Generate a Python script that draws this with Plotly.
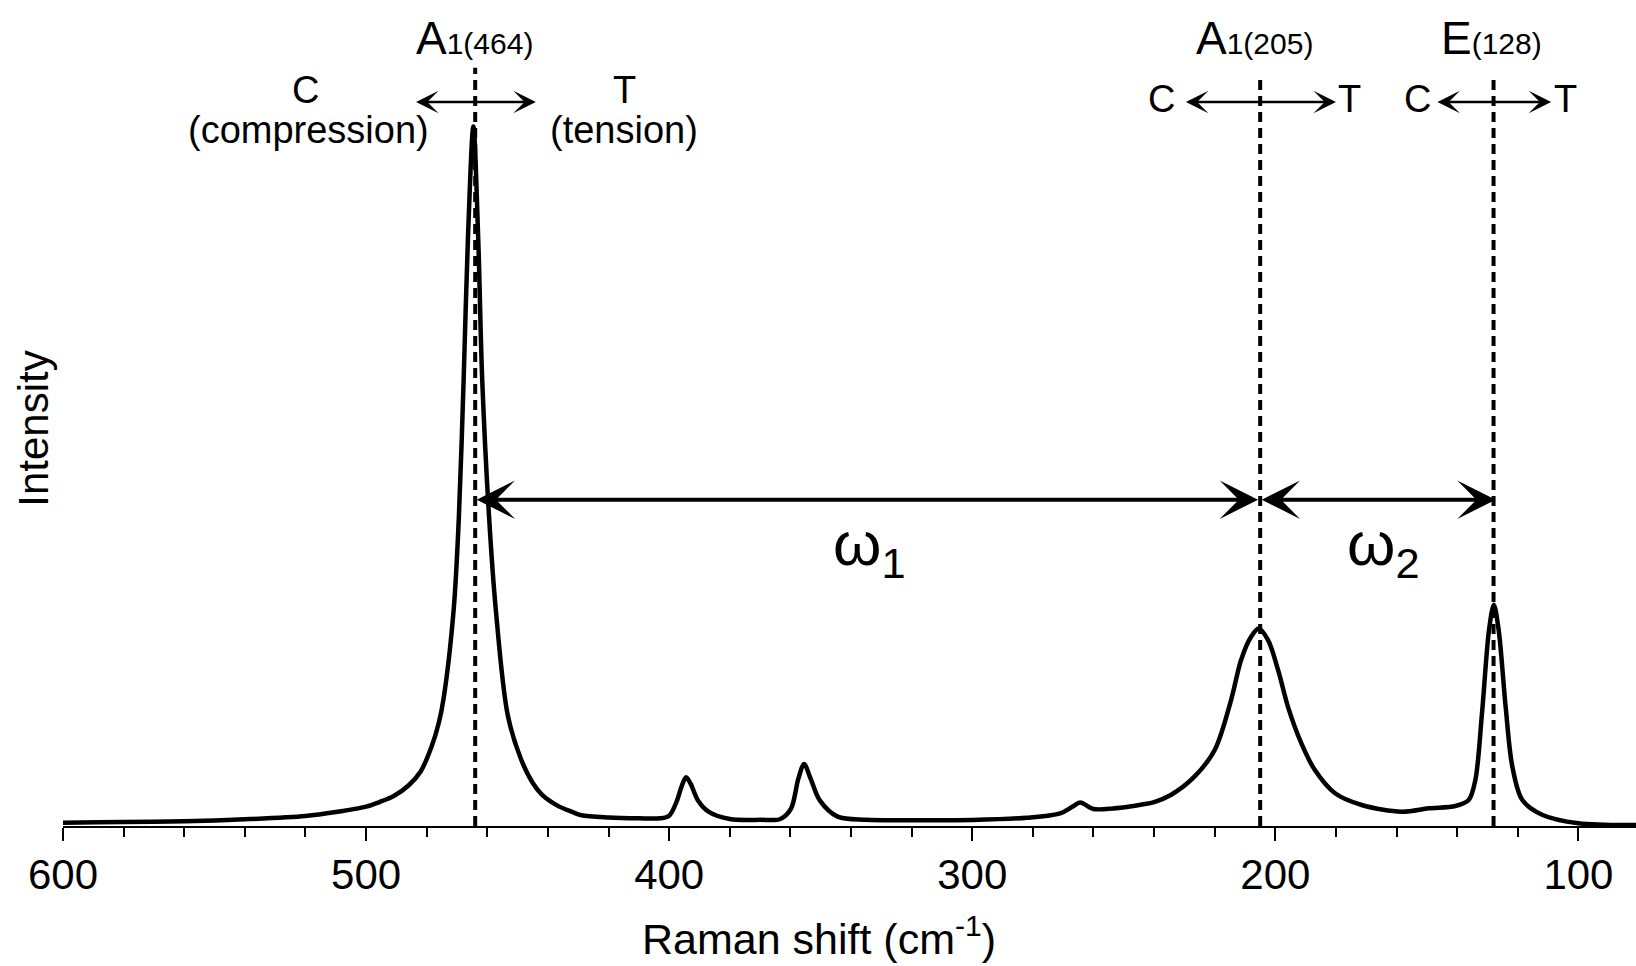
import plotly.graph_objects as go

# Raman spectrum: shift (cm^-1) and intensity (a.u.)
shift = [601, 600, 580, 560, 540, 520, 510, 500, 495.6, 491, 486, 482, 478.5,
         476, 474.4, 471.1, 469.4, 467.8, 466.4, 464.6, 463, 461.7, 459.4,
         457.2, 453.3, 449, 445, 442, 437, 432, 429, 420, 410, 403, 400, 397.6,
         395.8, 394.4, 392.9, 390.5, 386.9, 380, 370, 363.3, 359.8, 357.4,
         355.5, 353.3, 350.3, 344.4, 335, 320, 300, 282, 271, 267, 264.4, 260,
         253.5, 248, 244, 240, 234.5, 226.7, 220, 214.6, 211.3, 208, 205.5,
         202.4, 199.1, 195.8, 191.4, 187, 180.3, 171.5, 158.2, 149.4, 140.6,
         136.2, 134, 131.8, 129.5, 127.9, 126.3, 124, 121.8, 118.5, 111.8,
         100, 81]
intensity = [0.40, 0.40, 0.48, 0.57, 0.81, 1.21, 1.69, 2.35, 2.9, 3.6, 4.9,
             6.6, 9.5, 12.5, 15.5, 26.2, 37.3, 54.2, 71.1, 84.7, 71.1, 54.2,
             37.3, 26.2, 13.5, 8.2, 5.2, 3.8, 2.5, 1.7, 1.3, 1.03, 0.93, 0.93,
             1.25, 2.9, 4.9, 5.9, 5.1, 3.1, 1.72, 0.85, 0.75, 0.85, 2.1, 5.7,
             7.5, 5.7, 3.1, 1.13, 0.75, 0.7, 0.73, 1.0, 1.53, 2.32, 2.83, 2.06,
             2.12, 2.35, 2.6, 2.9, 3.75, 5.97, 9.2, 15.25, 20.1, 22.9, 23.9,
             22.5, 18.9, 14.4, 10.0, 6.8, 3.96, 2.54, 1.73, 2.14, 2.42, 3.15,
             5.57, 13.7, 23.7, 26.8, 23.7, 14.4, 7.2, 3.15, 1.33, 0.33, 0.12]

# Phonon modes and their labels
modes = [464, 205, 128]
mode_symbols = ["A", "A", "E"]
mode_subs = ["1(464)", "1(205)", "(128)"]
# half-width of the compression/tension arrow around each mode (cm^-1)
ct_half = [20, 25, 19]

FONT = "Arial, Liberation Sans, sans-serif"
BLACK = "#000000"

fig = go.Figure()
fig.add_trace(go.Scatter(
    x=shift, y=intensity, mode="lines",
    line=dict(color=BLACK, width=4.5, shape="spline", smoothing=0.9),
    hoverinfo="skip", showlegend=False,
))

shapes = []
annotations = []
dash_tops = [91.8, 90.6, 90.6]
for m, top in zip(modes, dash_tops):
    shapes.append(dict(type="line", xref="x", yref="y", x0=m, x1=m, y0=0, y1=top,
                       line=dict(color=BLACK, width=4, dash="10px,6px")))

label_x = [464.3, 206.9, 128.6]
for lx, sym, sub in zip(label_x, mode_symbols, mode_subs):
    annotations.append(dict(
        x=lx, y=95.4, xref="x", yref="y", showarrow=False,
        xanchor="center", yanchor="middle",
        text=f"{sym}<span style='font-size:30px'>{sub}</span>",
        font=dict(family=FONT, size=46, color=BLACK)))

# compression / tension arrows
arrow_y = 87.65
for m, h in zip(modes, ct_half):
    annotations.append(dict(
        x=m - h, y=arrow_y, ax=m + h, ay=arrow_y, xref="x", yref="y",
        axref="x", ayref="y", text="", showarrow=True,
        arrowhead=3, startarrowhead=3, arrowside="end+start",
        arrowsize=1.5, startarrowsize=1.5, arrowwidth=2.5, arrowcolor=BLACK,
        standoff=0, startstandoff=0))

ct_labels = [
    ("C", 520, 89.1), ("(compression)", 519, 84.3),
    ("T", 414.6, 89.1), ("(tension)", 415, 84.3),
    ("C", 237.4, 88.0), ("T", 175.6, 88.0),
    ("C", 153.2, 88.0), ("T", 104.4, 88.0),
]
for txt, lx, ly in ct_labels:
    annotations.append(dict(
        x=lx, y=ly, xref="x", yref="y", showarrow=False,
        xanchor="center", yanchor="middle", text=txt,
        font=dict(family=FONT, size=38, color=BLACK)))

# frequency separations between the modes
omega_y = 39.5
gap = 0.7
for (a, b) in [(modes[0], modes[1]), (modes[1], modes[2])]:
    annotations.append(dict(
        x=b + gap, y=omega_y, ax=a, ay=omega_y, xref="x", yref="y",
        axref="x", ayref="y", text="", showarrow=True,
        arrowhead=3, startarrowhead=3, arrowside="end+start",
        arrowsize=1.6, startarrowsize=1.6, arrowwidth=4, arrowcolor=BLACK,
        standoff=0, startstandoff=0))
    gap = -gap

for txt, lx in [("ω<sub>1</sub>", 334), ("ω<sub>2</sub>", 164.3)]:
    annotations.append(dict(
        x=lx, y=33.6, xref="x", yref="y", showarrow=False,
        xanchor="center", yanchor="middle", text=txt,
        font=dict(family=FONT, size=62, color=BLACK)))

# axis titles
annotations.append(dict(
    x=350.6, y=-0.1335, xref="x", yref="paper", showarrow=False,
    xanchor="center", yanchor="middle", text="Raman shift (cm<sup>-1</sup>)",
    font=dict(family=FONT, size=43, color=BLACK)))
annotations.append(dict(
    x=-0.0184, y=48.1, xref="paper", yref="y", showarrow=False,
    xanchor="center", yanchor="middle", text="Intensity", textangle=-90,
    font=dict(family=FONT, size=42, color=BLACK)))

fig.update_layout(
    width=1636, height=966,
    margin=dict(l=63, r=0, t=0, b=140),
    paper_bgcolor="white", plot_bgcolor="white",
    shapes=shapes, annotations=annotations,
    font=dict(family=FONT, color=BLACK),
    xaxis=dict(
        range=[600, 81], autorange=False,
        showgrid=False, zeroline=False,
        showline=True, linecolor=BLACK, linewidth=2,
        ticks="outside", ticklen=13, tickwidth=2, tickcolor=BLACK,
        tick0=0, dtick=100,
        minor=dict(ticks="outside", ticklen=9, tickwidth=2, tickcolor=BLACK,
                   dtick=20, tick0=0, showgrid=False),
        tickfont=dict(family=FONT, size=42, color=BLACK),
        ticklabelstandoff=-2,
    ),
    yaxis=dict(range=[0, 100], autorange=False, visible=False),
)

fig.write_html("out.html")
